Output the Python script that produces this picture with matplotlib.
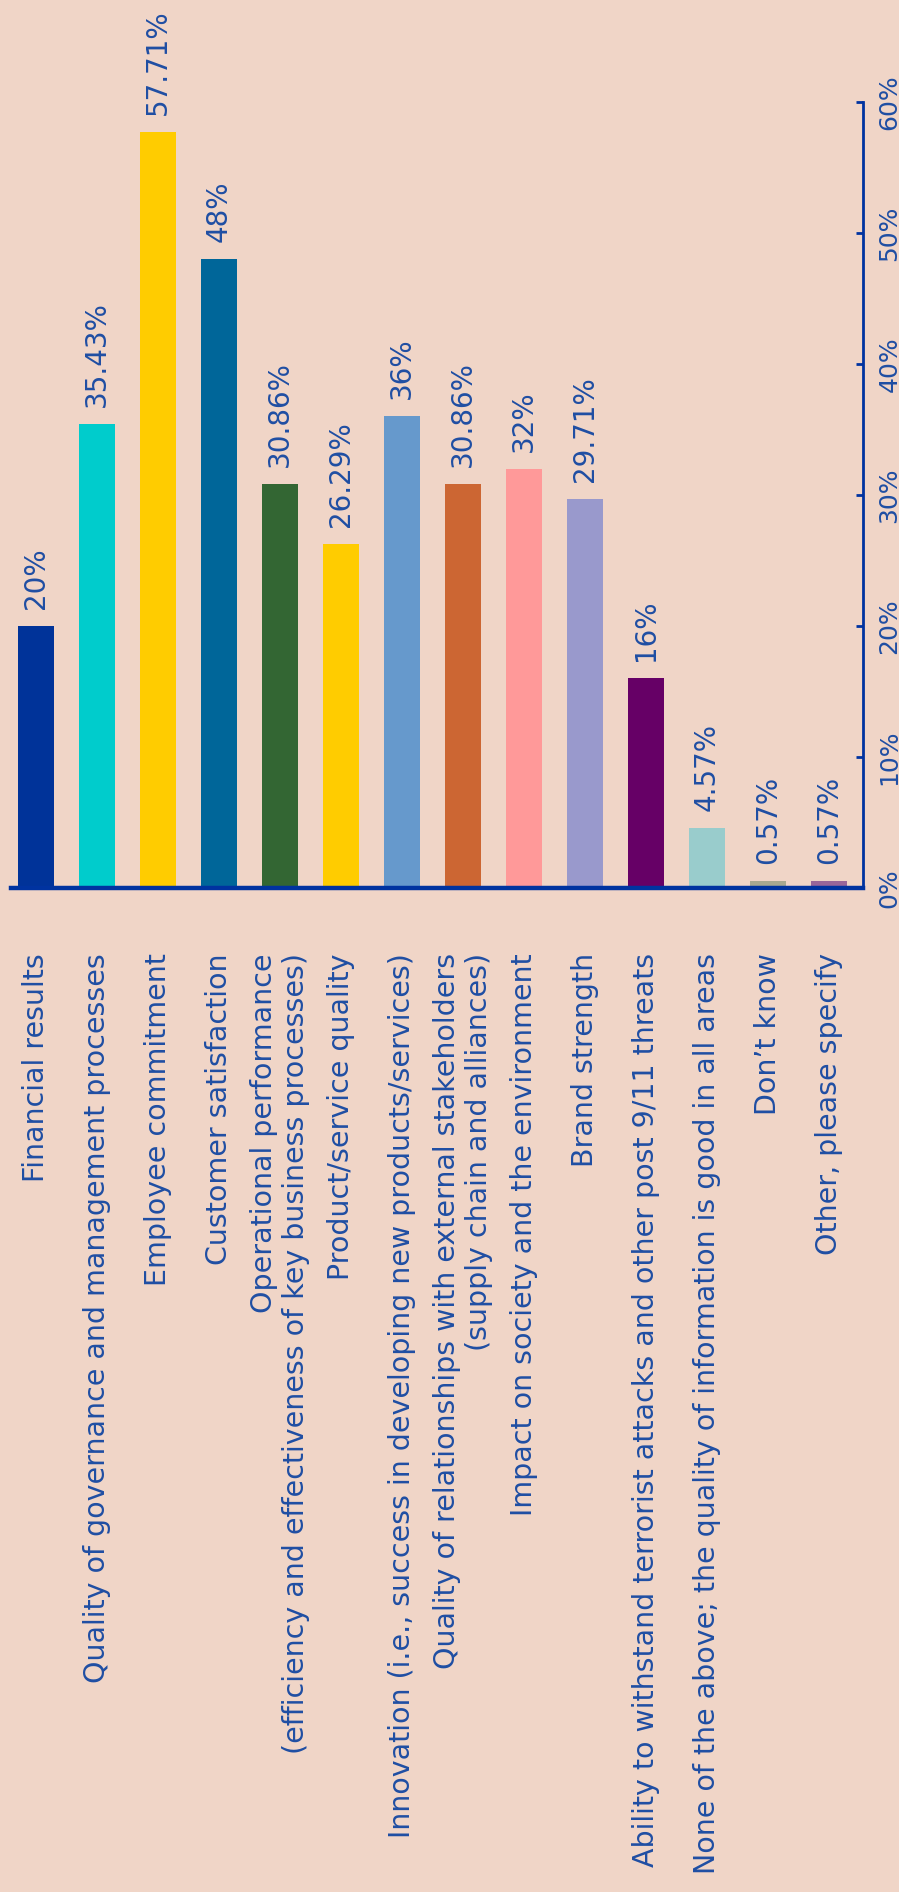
import matplotlib
matplotlib.use("Agg")
import matplotlib.pyplot as plt

categories = [
    "Financial results",
    "Quality of governance and management processes",
    "Employee commitment",
    "Customer satisfaction",
    "Operational performance\n(efficiency and effectiveness of key business processes)",
    "Product/service quality",
    "Innovation (i.e., success in developing new products/services)",
    "Quality of relationships with external stakeholders\n(supply chain and alliances)",
    "Impact on society and the environment",
    "Brand strength",
    "Ability to withstand terrorist attacks and other post 9/11 threats",
    "None of the above; the quality of information is good in all areas",
    "Don\u2019t know",
    "Other, please specify",
]
values = [20, 35.43, 57.71, 48, 30.86, 26.29, 36, 30.86, 32, 29.71, 16, 4.57, 0.57, 0.57]
bar_colors = ["#003399", "#00CCCC", "#FFCC00", "#006699", "#336633", "#FFCC00",
              "#6699CC", "#CC6633", "#FF9999", "#9999CC", "#660066", "#99CCCC",
              "#A8A890", "#996699"]
yticks = [0, 10, 20, 30, 40, 50, 60]
ytick_labels = ["0%", "10%", "20%", "30%", "40%", "50%", "60%"]

BG = "#F0D5C7"
AXC = "#0033A0"
TXT = "#1F4EA3"

W, H = 899, 1892
fig = plt.figure(figsize=(W / 100, H / 100), dpi=100, facecolor=BG)
ax = fig.add_axes([11 / W, 1 - 888 / H, (863 - 11) / W, (888 - 102) / H])
ax.set_facecolor(BG)

x = list(range(len(values)))
bars = ax.bar(x, values, width=0.6, color=bar_colors, zorder=2)

ax.set_xlim(-0.41, 13.56)
ax.set_ylim(0, 60)

for s in ["top", "left"]:
    ax.spines[s].set_visible(False)
ax.spines["bottom"].set_color(AXC)
ax.spines["bottom"].set_linewidth(3.2)
ax.spines["bottom"].set_zorder(3)
ax.spines["right"].set_color(AXC)
ax.spines["right"].set_linewidth(2.0)

ax.yaxis.tick_right()
ax.set_yticks(yticks)
ax.set_yticklabels(ytick_labels, rotation=90, va="center", ha="left",
                   color=TXT, fontsize=18)
ax.tick_params(axis="y", direction="in", length=5, width=2, color=AXC, pad=10.5)

ax.set_xticks(x)
ax.set_xticklabels(categories, rotation=90, ha="center", va="top",
                   multialignment="right", color=TXT, fontsize=20.5,
                   linespacing=1.15)
ax.tick_params(axis="x", length=0, pad=47)

for xi, v in zip(x, values):
    ax.annotate(f"{v:g}%", xy=(xi, v), xytext=(0, 17), textcoords="offset pixels",
                rotation=90, ha="center", va="bottom", color=TXT, fontsize=20,
                annotation_clip=False)

fig.savefig("out.png", dpi=100, facecolor=BG)
